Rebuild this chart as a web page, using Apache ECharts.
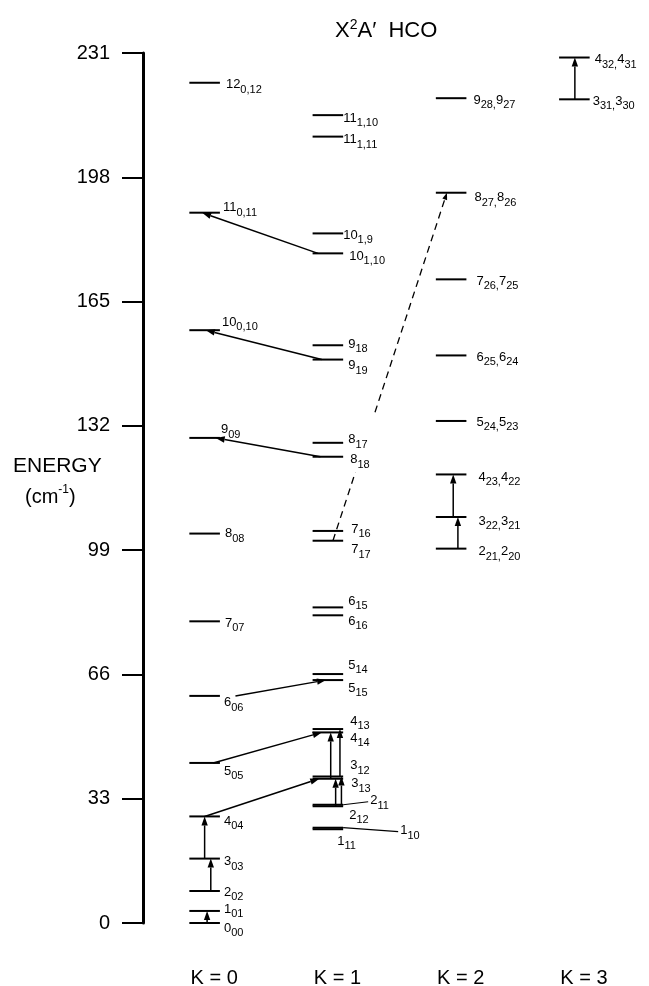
<!DOCTYPE html>
<html><head><meta charset="utf-8">
<script src="https://cdn.jsdelivr.net/npm/echarts@6/dist/echarts.min.js"></script>
<style>html,body{margin:0;padding:0;background:#fff}#c{width:649px;height:986px}</style>
</head><body><div id="c"></div>
<script>
// ================= DATA =================
const yTicks = [0, 33, 66, 99, 132, 165, 198, 231];
const kValues = [0, 1, 2, 3];
const kLabels = ['K = 0', 'K = 1', 'K = 2', 'K = 3'];

// K = 0 stack (energy in cm-1)
const k0Energy = [0, 3.2, 8.5, 17.1, 28.3, 42.5, 60.3, 80.1, 103.4, 128.8, 157.4, 188.6, 223.1];
const k0Names = ['0{s|00}','1{s|01}','2{s|02}','3{s|03}','4{s|04}','5{s|05}','6{s|06}','7{s|07}','8{s|08}','9{s|09}','10{s|0,10}','11{s|0,11}','12{s|0,12}'];

// K = 1 stack
const k1Energy = [24.9, 25.3, 31.0, 31.4, 38.3, 38.9, 50.6, 51.5, 64.5, 66.1, 81.7, 83.8, 101.5, 104.1, 123.8, 127.5, 149.6, 153.4, 177.8, 183.1, 208.8, 214.5];
const k1Names = ['1{s|11}','1{s|10}','2{s|12}','2{s|11}','3{s|13}','3{s|12}','4{s|14}','4{s|13}','5{s|15}','5{s|14}','6{s|16}','6{s|15}','7{s|17}','7{s|16}','8{s|18}','8{s|17}','9{s|19}','9{s|18}','10{s|1,10}','10{s|1,9}','11{s|1,11}','11{s|1,10}'];

// K = 2 stack
const k2Energy = [99.4, 107.8, 119.1, 133.3, 150.7, 170.9, 193.9, 219.0];
const k2Names = ['2{s|21,}2{s|20}','3{s|22,}3{s|21}','4{s|23,}4{s|22}','5{s|24,}5{s|23}','6{s|25,}6{s|24}','7{s|26,}7{s|25}','8{s|27,}8{s|26}','9{s|28,}9{s|27}'];

// K = 3 stack
const k3Energy = [218.7, 229.8];
const k3Names = ['3{s|31,}3{s|30}','4{s|32,}4{s|31}'];

// observed transitions (from level -> arrow level)
const arrowPairs = [
  ['10{s|1,10}', '11{s|0,11}'],
  ['9{s|19}', '10{s|0,10}'],
  ['8{s|18}', '9{s|09}'],
  ['6{s|06}', '5{s|15}'],
  ['5{s|05}', '4{s|14}'],
  ['4{s|04}', '3{s|13}'],
  ['0{s|00}', '1{s|01}'],
  ['2{s|02}', '3{s|03}'],
  ['3{s|03}', '4{s|04}'],
  ['2{s|12}', '3{s|13}'],
  ['2{s|11}', '3{s|12}'],
  ['3{s|13}', '4{s|14}'],
  ['3{s|12}', '4{s|13}'],
  ['2{s|21,}2{s|20}', '3{s|22,}3{s|21}'],
  ['3{s|22,}3{s|21}', '4{s|23,}4{s|22}'],
  ['3{s|31,}3{s|30}', '4{s|32,}4{s|31}']
];
const dashedPairs = [['7{s|17}', '8{s|27,}8{s|26}']];

// ================= LAYOUT (positions / styles only) =================
const FONT = '"Liberation Sans", Arial, sans-serif';
const HW = 0.124; // half width of a level bar, in K units
// label offset from right end of level bar: [dx px, dy px, leader?]
const labelLayout = {
  '0{s|00}':[4,5],'1{s|01}':[4,-2],'2{s|02}':[4,1],'3{s|03}':[4,3],'4{s|04}':[4,5],'5{s|05}':[4,8],
  '6{s|06}':[4,7],'7{s|07}':[5,2],'8{s|08}':[5,0],'9{s|09}':[1,-8],'10{s|0,10}':[2,-8],'11{s|0,11}':[3,-5],'12{s|0,12}':[6,2],
  '1{s|11}':[-6,12],'1{s|10}':[57,3,1],'2{s|12}':[6,9],'2{s|11}':[27,-4,1],'3{s|13}':[8,5],'3{s|12}':[7,-11],
  '4{s|14}':[7,6],'4{s|13}':[7,-8],'5{s|15}':[5,8],'5{s|14}':[5,-9],'6{s|16}':[5,6],'6{s|15}':[5,-6],
  '7{s|17}':[8,9],'7{s|16}':[8,-2],'8{s|18}':[7,3],'8{s|17}':[5,-3],'9{s|19}':[5,6],'9{s|18}':[5,-1],
  '10{s|1,10}':[6,3],'10{s|1,9}':[0,2],'11{s|1,11}':[0,3],'11{s|1,10}':[0,3],
  '2{s|21,}2{s|20}':[12,3],'3{s|22,}3{s|21}':[12,4],'4{s|23,}4{s|22}':[12,3],'5{s|24,}5{s|23}':[10,1],
  '6{s|25,}6{s|24}':[10,2],'7{s|26,}7{s|25}':[10,2],'8{s|27,}8{s|26}':[8,5],'9{s|28,}9{s|27}':[7,2],
  '3{s|31,}3{s|30}':[3,2],'4{s|32,}4{s|31}':[5,2]
};
// x offsets (K units) of arrow ends
const arrowDx = [
  [-0.08,-0.02],[-0.05,0.01],[-0.06,0.09],[0.25,-0.015],[0.07,-0.05],[0.0,-0.07],
  [0.02,0.02],[0.05,0.05],[0.0,0.0],
  [0.063,0.063],[0.11,0.11],[0.023,0.023],[0.098,0.098],
  [0.055,0.055],[0.017,0.017],[0.004,0.004]
];
const dashedDx = [[0.041,-0.034]];
const dashedGap = [[0.197,0.369]];

// ================= BUILD =================
const levels = [];
function addLevels(k, es, ns){ es.forEach((e,i)=>levels.push({k:k, e:e, name:ns[i]})); }
addLevels(0, k0Energy, k0Names);
addLevels(1, k1Energy, k1Names);
addLevels(2, k2Energy, k2Names);
addLevels(3, k3Energy, k3Names);
const byName = {};
levels.forEach(l => byName[l.name] = l);

const RICH = { s: { fontSize: 11, fontFamily: FONT, fill: '#000', lineHeight: 21, verticalAlign: 'bottom' } };

function renderLevel(params, api) {
  const k = api.value(0), e = api.value(1), idx = api.value(2);
  const lv = levels[idx];
  const p1 = api.coord([k - HW, e]), p2 = api.coord([k + HW, e]);
  const lay = labelLayout[lv.name] || [4, 0];
  const ax = p2[0] + lay[0], ay = p2[1] + lay[1];
  const ch = [
    { type: 'line', shape: { x1: p1[0], y1: p1[1], x2: p2[0], y2: p2[1] }, style: { stroke: '#000', lineWidth: 2 } },
    { type: 'text', x: ax, y: ay, style: { text: lv.name, rich: RICH, fill: '#000', fontSize: 13, fontFamily: FONT, align: 'left', verticalAlign: 'middle' } }
  ];
  if (lay[2]) {
    ch.push({ type: 'line', shape: { x1: p2[0], y1: p2[1], x2: ax - 2, y2: ay + 1 }, style: { stroke: '#000', lineWidth: 1.2 } });
  }
  return { type: 'group', children: ch };
}

function head(p1, p2, len, hw) {
  const dx = p2[0] - p1[0], dy = p2[1] - p1[1];
  const d = Math.hypot(dx, dy) || 1;
  const ux = dx / d, uy = dy / d;
  const bx = p2[0] - ux * len, by = p2[1] - uy * len;
  return { base: [bx, by], pts: [[p2[0], p2[1]], [bx - uy * hw, by + ux * hw], [bx + uy * hw, by - ux * hw]] };
}

function renderArrow(params, api) {
  const i = api.value(4);
  const p1 = api.coord([api.value(0) + arrowDx[i][0], api.value(1)]);
  const p2 = api.coord([api.value(2) + arrowDx[i][1], api.value(3)]);
  const h = head(p1, p2, 9, 3.2);
  return { type: 'group', children: [
    { type: 'line', shape: { x1: p1[0], y1: p1[1], x2: h.base[0], y2: h.base[1] }, style: { stroke: '#000', lineWidth: 1.5 } },
    { type: 'polygon', shape: { points: h.pts }, style: { fill: '#000' } }
  ]};
}

function renderDashed(params, api) {
  const i = api.value(4);
  const p1 = api.coord([api.value(0) + dashedDx[i][0], api.value(1)]);
  const p2 = api.coord([api.value(2) + dashedDx[i][1], api.value(3)]);
  const g = dashedGap[i];
  const L = t => [p1[0] + (p2[0] - p1[0]) * t, p1[1] + (p2[1] - p1[1]) * t];
  const a = L(g[0]), b = L(g[1]);
  const h = head(p1, p2, 7, 2.5);
  const st = { stroke: '#000', lineWidth: 1.3, lineDash: [7, 5] };
  return { type: 'group', children: [
    { type: 'line', shape: { x1: p1[0], y1: p1[1], x2: a[0], y2: a[1] }, style: st },
    { type: 'line', shape: { x1: b[0], y1: b[1], x2: h.base[0], y2: h.base[1] }, style: st },
    { type: 'polygon', shape: { points: h.pts }, style: { fill: '#000' } }
  ]};
}

const pairData = (pairs) => pairs.map((p, i) => {
  const a = byName[p[0]], b = byName[p[1]];
  return [a.k, a.e, b.k, b.e, i];
});

const chart = echarts.init(document.getElementById('c'), null, { renderer: 'canvas' });
chart.setOption({
  backgroundColor: '#fff',
  animation: false,
  title: {
    text: 'X{sup|2}A′  HCO', left: 335, top: 18, padding: 0,
    textStyle: { fontSize: 22, fontWeight: 'normal', color: '#000', fontFamily: FONT,
      rich: { sup: { fontSize: 14, color: '#000', fontFamily: FONT, lineHeight: 26, verticalAlign: 'top' } } }
  },
  graphic: [
    { type: 'text', left: 13, top: 456, style: { text: 'ENERGY', fontSize: 21, fontFamily: FONT, fill: '#000' } },
    { type: 'text', left: 25, top: 484, style: { text: '(cm{sup|-1})', fontSize: 20, fontFamily: FONT, fill: '#000',
      rich: { sup: { fontSize: 12, fontFamily: FONT, fill: '#000', lineHeight: 26, verticalAlign: 'top' } } } }
  ],
  grid: { left: 143, right: 13, top: 53, bottom: 63, containLabel: false, outerBoundsMode: 'none' },
  xAxis: {
    type: 'value', min: -0.5, max: 3.5,
    axisLine: { show: false, onZero: false }, axisTick: { show: false }, splitLine: { show: false },
    axisLabel: { customValues: kValues, formatter: v => kLabels[kValues.indexOf(v)], margin: 45,
      fontSize: 20, color: '#000', fontFamily: FONT, padding: [0, 0, 0, 19] }
  },
  yAxis: {
    type: 'value', min: 0, max: 231, interval: 33,
    axisLine: { show: true, onZero: false, lineStyle: { color: '#000', width: 3 } },
    axisTick: { show: true, length: 21, customValues: yTicks, lineStyle: { color: '#000', width: 2 } },
    axisLabel: { customValues: yTicks, margin: 33, fontSize: 20, color: '#000', fontFamily: FONT },
    splitLine: { show: false }
  },
  series: [
    { type: 'custom', renderItem: renderArrow, data: pairData(arrowPairs), silent: true, z: 2, clip: false },
    { type: 'custom', renderItem: renderDashed, data: pairData(dashedPairs), silent: true, z: 2, clip: false },
    { type: 'custom', renderItem: renderLevel, data: levels.map((l, i) => [l.k, l.e, i]), silent: true, z: 3, clip: false }
  ]
});
</script></body></html>
